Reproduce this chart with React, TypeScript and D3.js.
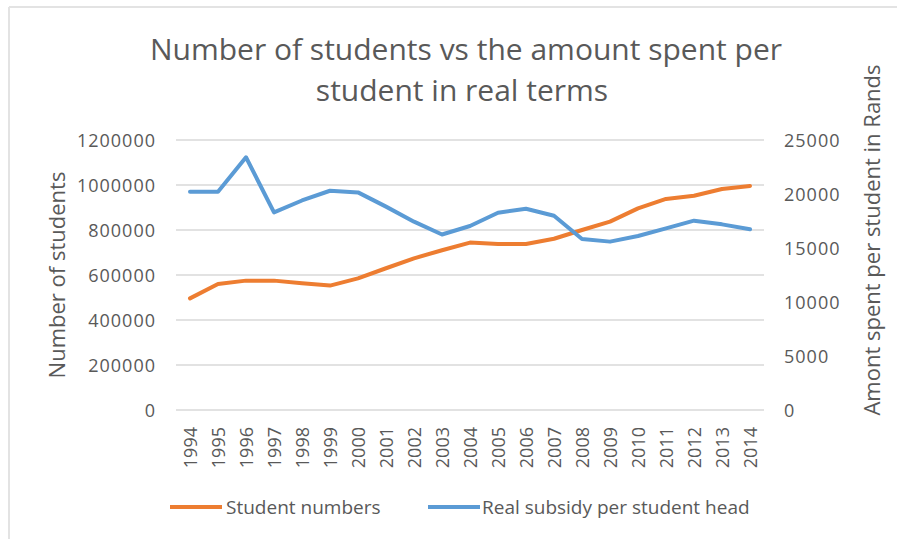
import { useMemo } from "react";
import * as d3 from "d3";

const WIDTH = 897;
const HEIGHT = 539;
const MARGIN = { top: 140, right: 133, bottom: 129, left: 176 };

const TEXT_COLOR = "#595959";
const GRID_COLOR = "#d9d9d9";
const FONT = "'Open Sans', 'Noto Sans', sans-serif";

// data
const years = [
  "1994", "1995", "1996", "1997", "1998", "1999", "2000", "2001", "2002", "2003", "2004",
  "2005", "2006", "2007", "2008", "2009", "2010", "2011", "2012", "2013", "2014",
];
const studentNumbers = [
  496000, 560000, 575000, 575000, 563000, 553000, 585000, 630000, 674000, 710000, 744000,
  738000, 738000, 761000, 800000, 837000, 896000, 938000, 952000, 982000, 996000,
];
const subsidyPerStudent = [
  20200, 20200, 23400, 18300, 19400, 20300, 20150, 18830, 17440, 16250, 17040,
  18270, 18640, 17990, 15830, 15590, 16110, 16820, 17530, 17190, 16730,
];
const leftTicks = [0, 200000, 400000, 600000, 800000, 1000000, 1200000];
const rightTicks = [0, 5000, 10000, 15000, 20000, 25000];

const SERIES = [
  { name: "Student numbers", color: "#ed7d31" },
  { name: "Real subsidy per student head", color: "#5b9bd5" },
];

export default function App() {
  const boundsWidth = WIDTH - MARGIN.left - MARGIN.right;
  const boundsHeight = HEIGHT - MARGIN.top - MARGIN.bottom;

  const xScale = useMemo(
    () => d3.scaleBand().domain(years).range([0, boundsWidth]).padding(0),
    [boundsWidth]
  );
  const yLeft = useMemo(
    () => d3.scaleLinear().domain([0, 1200000]).range([boundsHeight, 0]),
    [boundsHeight]
  );
  const yRight = useMemo(
    () => d3.scaleLinear().domain([0, 25000]).range([boundsHeight, 0]),
    [boundsHeight]
  );

  const cx = (y: string) => (xScale(y) ?? 0) + xScale.bandwidth() / 2;

  const studentLine = d3
    .line<number>()
    .x((_, i) => cx(years[i]))
    .y((d) => yLeft(d))(studentNumbers);
  const subsidyLine = d3
    .line<number>()
    .x((_, i) => cx(years[i]))
    .y((d) => yRight(d))(subsidyPerStudent);

  return (
    <svg
      width={WIDTH}
      height={HEIGHT}
      style={{ position: "absolute", left: 0, top: 0, background: "#fff" }}
      fontFamily={FONT}
    >
      {/* chart frame, only top and left edges show */}
      <line x1={9} x2={WIDTH} y1={7} y2={7} stroke="#e3e3e3" strokeWidth={2} />
      <line x1={9} x2={9} y1={7} y2={HEIGHT} stroke="#e3e3e3" strokeWidth={2} />

      <text x={466} y={60} textAnchor="middle" fontSize={30} fill={TEXT_COLOR}>
        Number of students vs the amount spent per
      </text>
      <text x={462} y={101} textAnchor="middle" fontSize={30} fill={TEXT_COLOR}>
        student in real terms
      </text>

      <g transform={`translate(${MARGIN.left},${MARGIN.top})`}>
        {leftTicks.map((t) => (
          <line
            key={t}
            x1={0}
            x2={boundsWidth}
            y1={yLeft(t)}
            y2={yLeft(t)}
            stroke={GRID_COLOR}
            strokeWidth={1.5}
          />
        ))}
        {leftTicks.map((t) => (
          <text
            key={t}
            x={-20}
            y={yLeft(t)}
            textAnchor="end"
            dominantBaseline="central"
            fontSize={18}
            letterSpacing={1}
            fill={TEXT_COLOR}
          >
            {t}
          </text>
        ))}
        {rightTicks.map((t) => (
          <text
            key={t}
            x={boundsWidth + 20}
            y={yRight(t)}
            textAnchor="start"
            dominantBaseline="central"
            fontSize={18}
            letterSpacing={1}
            fill={TEXT_COLOR}
          >
            {t}
          </text>
        ))}
        {years.map((y) => (
          <text
            key={y}
            transform={`translate(${cx(y)},${boundsHeight + 17}) rotate(-90)`}
            textAnchor="end"
            dominantBaseline="central"
            fontSize={18}
            fill={TEXT_COLOR}
          >
            {y}
          </text>
        ))}

        <path d={studentLine ?? ""} fill="none" stroke={SERIES[0].color} strokeWidth={4} strokeLinejoin="round" strokeLinecap="round" />
        <path d={subsidyLine ?? ""} fill="none" stroke={SERIES[1].color} strokeWidth={4} strokeLinejoin="round" strokeLinecap="round" />
      </g>

      <text
        transform={`translate(56,275) rotate(-90)`}
        textAnchor="middle"
        dominantBaseline="central"
        fontSize={22}
        fill={TEXT_COLOR}
      >
        Number of students
      </text>
      <text
        transform={`translate(871,240) rotate(-90)`}
        textAnchor="middle"
        dominantBaseline="central"
        fontSize={22}
        fill={TEXT_COLOR}
      >
        Amont spent per student in Rands
      </text>

      {/* legend */}
      <g transform="translate(170,507)">
        <line x1={0} x2={52} y1={0} y2={0} stroke={SERIES[0].color} strokeWidth={4} />
        <text x={56} y={0} dominantBaseline="central" fontSize={19} fill={TEXT_COLOR}>
          {SERIES[0].name}
        </text>
      </g>
      <g transform="translate(428,507)">
        <line x1={0} x2={52} y1={0} y2={0} stroke={SERIES[1].color} strokeWidth={4} />
        <text x={54} y={0} dominantBaseline="central" fontSize={19} fill={TEXT_COLOR}>
          {SERIES[1].name}
        </text>
      </g>
    </svg>
  );
}
